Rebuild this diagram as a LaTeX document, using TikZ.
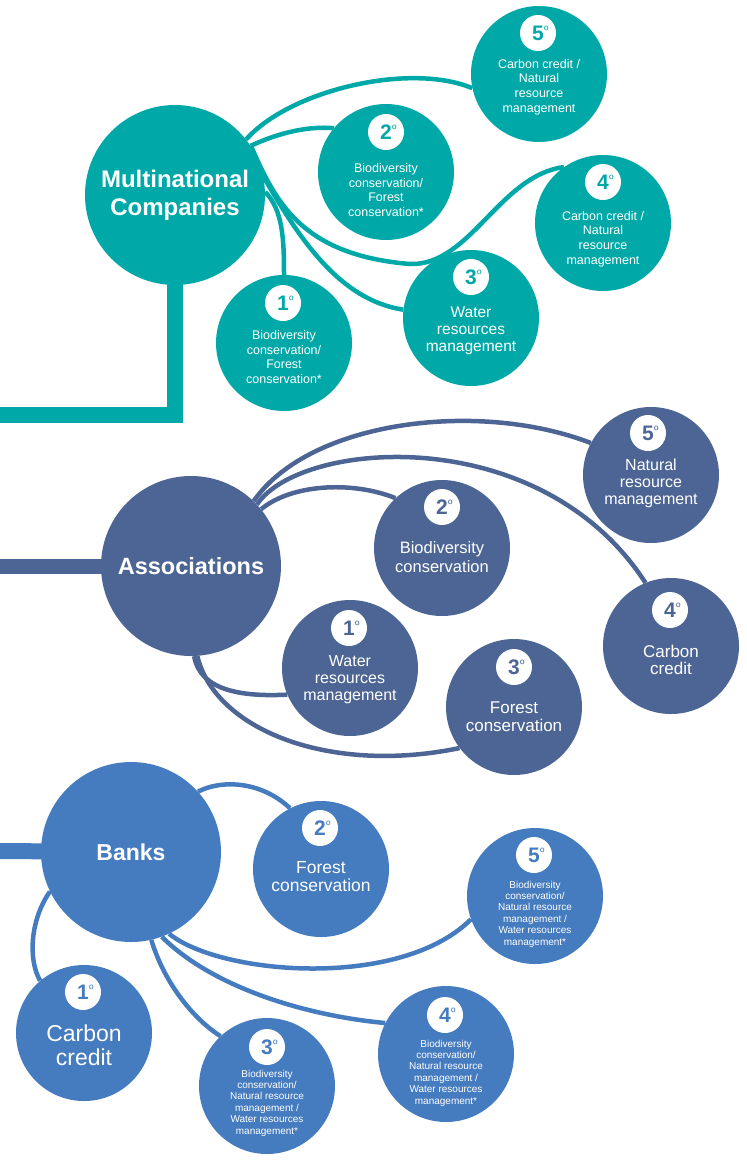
\documentclass[tikz,border=0pt]{standalone}
\usepackage{fontspec}
\setmainfont{Liberation Sans}
\pgfdeclarelayer{bg}
\pgfsetlayers{bg,main}
\definecolor{mcc}{HTML}{00A9A7}
\definecolor{asc}{HTML}{4D6594}
\definecolor{bkc}{HTML}{457BBF}
\newcommand\myord{\rlap{\kern0.3pt\raisebox{5.5pt}{\fontsize{12}{12}\selectfont\mdseries º}}}
\newcommand\fs[2]{\fontsize{#1}{#2}\selectfont}
\begin{document}
\begin{tikzpicture}[x=1pt,y=-1pt,
  hub/.style={circle,inner sep=0pt,minimum size=180pt,text=white,align=center},
  leaf/.style={circle,inner sep=0pt,minimum size=136pt},
  badge/.style={circle,fill=white,inner sep=0pt,minimum size=36pt,font=\fs{21}{21}\bfseries},
  lbl/.style={text=white,align=center,inner sep=0pt},
  link/.style={line width=4.5pt},
  bar/.style={line width=16pt}]
\useasboundingbox (0,0) rectangle (747,1160);

% ---------------- Multinational Companies ----------------
\node[hub,fill=mcc,font=\fs{24}{28}\bfseries] (mc) at (175,195) {Multinational\\Companies};
\node[leaf,fill=mcc] (m5) at (539,74) {};
\node[leaf,fill=mcc] (m2) at (386,172) {};
\node[leaf,fill=mcc] (m4) at (603,223) {};
\node[leaf,fill=mcc] (m3) at (471,318) {};
\node[leaf,fill=mcc] (m1) at (284,343) {};
\node[lbl,font=\fs{12.5}{14.6}] (m5t) at (539,87) {Carbon credit /\\Natural\\resource\\management};
\node[lbl,font=\fs{12.5}{14.6}] (m2t) at (386,190) {Biodiversity\\conservation/\\Forest\\conservation*};
\node[lbl,font=\fs{12.5}{14.6}] (m4t) at (603,239) {Carbon credit /\\Natural\\resource\\management};
\node[lbl,font=\fs{15.5}{17}] (m3t) at (471,331) {Water\\resources\\management};
\node[lbl,font=\fs{12.5}{14.6}] (m1t) at (284,357) {Biodiversity\\conservation/\\Forest\\conservation*};
\node[badge,text=mcc] (m5b) at (538,33) {5\myord};
\node[badge,text=mcc] (m2b) at (386,132) {2\myord};
\node[badge,text=mcc] (m4b) at (603,182) {4\myord};
\node[badge,text=mcc] (m3b) at (471,277) {3\myord};
\node[badge,text=mcc] (m1b) at (283,303) {1\myord};
\coordinate (mcend) at (0,415);

% ---------------- Associations ----------------
\node[hub,fill=asc,font=\fs{23.5}{28}\bfseries] (as) at (191,566) {Associations};
\node[leaf,fill=asc] (a5) at (651,475) {};
\node[leaf,fill=asc] (a2) at (442,548) {};
\node[leaf,fill=asc] (a4) at (671,646) {};
\node[leaf,fill=asc] (a1) at (350,668) {};
\node[leaf,fill=asc] (a3) at (514,707) {};
\node[lbl,font=\fs{16}{17}] (a5t) at (651,483) {Natural\\resource\\management};
\node[lbl,font=\fs{16.5}{19}] (a2t) at (442,557) {Biodiversity\\conservation};
\node[lbl,font=\fs{17}{17.5}] (a4t) at (671,660) {Carbon\\credit};
\node[lbl,font=\fs{16}{17}] (a1t) at (350,680) {Water\\resources\\management};
\node[lbl,font=\fs{17}{18}] (a3t) at (514,717) {Forest\\conservation};
\node[badge,text=asc] (a5b) at (648,433) {5\myord};
\node[badge,text=asc] (a2b) at (442,507) {2\myord};
\node[badge,text=asc] (a4b) at (670,610) {4\myord};
\node[badge,text=asc] (a1b) at (349,628) {1\myord};
\node[badge,text=asc] (a3b) at (514,667) {3\myord};
\coordinate (asend) at (0,566);

% ---------------- Banks ----------------
\node[hub,fill=bkc,font=\fs{23}{28}\bfseries] (bk) at (131,852) {Banks};
\node[leaf,fill=bkc] (b1) at (84,1033) {};
\node[leaf,fill=bkc] (b2) at (321,869) {};
\node[leaf,fill=bkc] (b5) at (535,896) {};
\node[leaf,fill=bkc] (b3) at (267,1086) {};
\node[leaf,fill=bkc] (b4) at (446,1054) {};
\node[lbl,font=\fs{23}{24}] (b1t) at (84,1045) {Carbon\\credit};
\node[lbl,font=\fs{17.5}{18}] (b2t) at (321,877) {Forest\\conservation};
\node[lbl,font=\fs{10}{11.4}] (b5t) at (535,914) {Biodiversity\\conservation/\\Natural resource\\management /\\Water resources\\management*};
\node[lbl,font=\fs{10}{11.4}] (b3t) at (267,1103) {Biodiversity\\conservation/\\Natural resource\\management /\\Water resources\\management*};
\node[lbl,font=\fs{10}{11.4}] (b4t) at (446,1073) {Biodiversity\\conservation/\\Natural resource\\management /\\Water resources\\management*};
\node[badge,text=bkc] (b1b) at (83,992) {1\myord};
\node[badge,text=bkc] (b2b) at (320,828) {2\myord};
\node[badge,text=bkc] (b5b) at (534,855) {5\myord};
\node[badge,text=bkc] (b3b) at (267,1047) {3\myord};
\node[badge,text=bkc] (b4b) at (445,1015) {4\myord};
\coordinate (bkend) at (0,851);

\begin{pgfonlayer}{bg}
  % bars
  \draw[bar,mcc] (mc.center) |- (mcend);
  \draw[bar,asc,line width=15pt] (as.center) -- (asend);
  \draw[bar,bkc] (bk.center) -- (bkend);
  % MC links
  \draw[link,mcc] (mc.38) .. controls (290,90) and (410,62) .. (m5.192);
  \draw[link,mcc] (mc.33) .. controls (280,132) and (310,126) .. (m2.140);
  \draw[link,mcc] (mc.32) .. controls (275,200) and (300,255) .. (410,264)
                          .. controls (470,266) and (500,175) .. (m4.125);
  \draw[link,mcc] (mc.12) .. controls (300,240) and (340,300) .. (m3.173);
  \draw[link,mcc] (mc.2) .. controls (283,210) and (284,240) .. (m1.90);
  % Associations links
  \draw[link,asc] (as.46) .. controls (310,420) and (480,400) .. (a5.152);
  \draw[link,asc] (as.43) .. controls (300,440) and (540,420) .. (a4.112);
  \draw[link,asc] (as.39) .. controls (290,485) and (350,480) .. (a2.133);
  \draw[link,asc] (as.-88) .. controls (200,690) and (240,697) .. (a1.203);
  \draw[link,asc] (as.-86) .. controls (215,730) and (330,775) .. (a3.217);
  % Banks links
  \draw[link,bkc] (bk.42) .. controls (220,780) and (260,780) .. (b2.117);
  \draw[link,bkc] (bk.206) .. controls (30,920) and (28,960) .. (b1.130);
  \draw[link,bkc] (bk.-65) .. controls (220,975) and (400,990) .. (b5.200);
  \draw[link,bkc] (bk.-70) .. controls (210,985) and (300,1015) .. (b4.153);
  \draw[link,bkc] (bk.-77) .. controls (165,985) and (195,1020) .. (b3.133);
\end{pgfonlayer}
\end{tikzpicture}
\end{document}
